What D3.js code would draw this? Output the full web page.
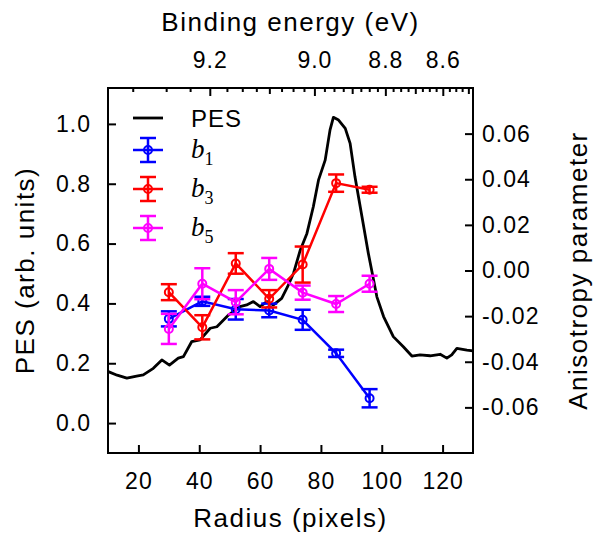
<!DOCTYPE html>
<html>
<head>
<meta charset="utf-8">
<script src="https://cdn.jsdelivr.net/npm/d3@7"></script>
<style>
    body { margin: 0; background: #fff; }
    text { font-family: "Liberation Sans", Arial, Helvetica, sans-serif; fill: #000; }
    .tick text { letter-spacing: 1px; }
    .title { font-size: 26px; letter-spacing: 1.5px; }
    .bsym { font-family: "Liberation Serif", "Times New Roman", serif; font-style: italic; }
</style>
</head>
<body>
<div id="chart"></div>
<script>
// anisotropy data (right axis)
const radius = [30, 41, 52, 63, 74, 85, 96];
const b1 = [-0.0212, -0.0135, -0.0170, -0.0175, -0.0216, -0.0363, -0.0560];
const b1Err = [0.0033, 0.0020, 0.0045, 0.0030, 0.0044, 0.0016, 0.0040];
const b3 = [-0.0095, -0.0249, 0.0031, -0.0124, 0.0026, 0.0383, 0.0354];
const b3Err = [0.0035, 0.0053, 0.0045, 0.0038, 0.0079, 0.0038, 0.0013];
const b5 = [-0.0256, -0.0058, -0.0139, 0.0007, -0.0097, -0.0147, -0.0058];
const b5Err = [0.0066, 0.0068, 0.0053, 0.0048, 0.0031, 0.0035, 0.0035];

// PES trace (left axis)
const pesRadius = [10.1, 13, 16.2, 19.4, 21.6, 24.9, 27.7, 30.2, 33.1, 34.8, 37.5, 40.3, 43.6, 45.8, 49.6,
    53.4, 55.6, 57.8, 60, 62.2, 64.4, 67.1, 69, 71, 73.2, 75.4, 77.5, 79.2, 81.4, 83, 84.1, 85.8, 88,
    89.6, 91.2, 93.5, 95.6, 98.4, 100.6, 103.8, 107.1, 109.9, 112.6, 115.9, 119.2, 121.4, 123, 124.7,
    128, 130];
const pesValue = [0.172, 0.160, 0.150, 0.157, 0.161, 0.183, 0.211, 0.194, 0.217, 0.222, 0.272, 0.278, 0.317,
    0.322, 0.361, 0.389, 0.395, 0.406, 0.389, 0.406, 0.395, 0.417, 0.455, 0.501, 0.578, 0.634, 0.723,
    0.812, 0.879, 0.980, 1.022, 1.013, 0.985, 0.935, 0.823, 0.690, 0.567, 0.422, 0.356, 0.289, 0.255,
    0.224, 0.228, 0.225, 0.230, 0.217, 0.228, 0.250, 0.244, 0.241];

const radiusTicks = [20, 40, 60, 80, 100, 120];
const pesTicks = [0.0, 0.2, 0.4, 0.6, 0.8, 1.0];
const anisoTicks = [-0.06, -0.04, -0.02, 0.00, 0.02, 0.04, 0.06];
const energyLabels = [9.2, 9.0, 8.8, 8.6];

// binding energy calibration: E = E0 - k * r^2
const E0 = 9.291, kE = 4.78e-5;
const energyToRadius = e => Math.sqrt((E0 - e) / kE);

const W = 595, H = 533;
const margin = { top: 88, right: 122, bottom: 80, left: 108 };
const width = W - margin.left - margin.right;
const height = H - margin.top - margin.bottom;

const svg = d3.select('#chart')
    .append('svg')
    .attr('width', W)
    .attr('height', H);

const g = svg.append('g')
    .attr('transform', `translate(${margin.left},${margin.top})`);

const x = d3.scaleLinear().domain([10, 130]).range([0, width]);
const yL = d3.scaleLinear().domain([-0.1, 1.12]).range([height, 0]);
const yR = d3.scaleLinear().domain([-0.08, 0.08]).range([height, 0]);

// axes, ticks pointing inward
const styleAxis = sel => {
    sel.select('.domain').remove();
    sel.selectAll('line').attr('stroke', '#000').attr('stroke-width', 2);
    sel.selectAll('text').style('font-size', '23px').attr('fill', '#000');
};

g.append('g')
    .attr('transform', `translate(0,${height})`)
    .call(d3.axisBottom(x).tickValues(radiusTicks).tickSize(-8).tickPadding(20).tickFormat(d3.format('d')))
    .call(styleAxis);

g.append('g')
    .call(d3.axisLeft(yL).tickValues(pesTicks).tickSize(-8).tickPadding(17).tickFormat(d3.format('.1f')))
    .call(styleAxis);

g.append('g')
    .attr('transform', `translate(${width},0)`)
    .call(d3.axisRight(yR).tickValues(anisoTicks).tickSize(-8).tickPadding(17)
        .tickFormat(d => d3.format('.2f')(d).replace('−', '-')))
    .call(styleAxis)
    .selectAll('text').attr('text-anchor', 'start').attr('x', 9);

// top axis: binding energy, non-linear
const minorE = d3.range(0, 32).map(i => +(9.275 - i * 0.025).toFixed(3))
    .filter(e => e < E0 && energyToRadius(e) >= 10 && energyToRadius(e) <= 130);
const topAxis = g.append('g');
topAxis.selectAll('line')
    .data(minorE)
    .enter()
    .append('line')
    .attr('x1', d => x(energyToRadius(d)))
    .attr('x2', d => x(energyToRadius(d)))
    .attr('y1', 0)
    .attr('y2', d => {
        const m = Math.round(d * 1000);
        if (m % 200 === 0) return 8;
        if (m % 100 === 0) return 6;
        return 4;
    })
    .attr('stroke', '#000')
    .attr('stroke-width', 2);
topAxis.selectAll('text')
    .data(energyLabels)
    .enter()
    .append('text')
    .attr('x', d => x(energyToRadius(d)))
    .attr('y', -20)
    .attr('text-anchor', 'middle')
    .style('font-size', '23px')
    .style('letter-spacing', '1px')
    .text(d => d3.format('.1f')(d));

// PES curve
g.append('path')
    .datum(pesRadius.map((r, i) => [r, pesValue[i]]))
    .attr('fill', 'none')
    .attr('stroke', '#000')
    .attr('stroke-width', 2.8)
    .attr('stroke-linejoin', 'round')
    .attr('d', d3.line().x(d => x(d[0])).y(d => yL(d[1])));

// anisotropy series with error bars
const series = [
    { name: '1', vals: b1, errs: b1Err, color: '#0000ff' },
    { name: '3', vals: b3, errs: b3Err, color: '#ff0000' },
    { name: '5', vals: b5, errs: b5Err, color: '#ff00ff' }
];
const cap = 8;

series.forEach(s => {
    const pts = radius.map((r, i) => ({ r: r, v: s.vals[i], e: s.errs[i] }));
    const sg = g.append('g').attr('stroke', s.color).attr('stroke-width', 2.5).attr('fill', 'none');

    sg.append('path')
        .datum(pts)
        .attr('d', d3.line().x(d => x(d.r)).y(d => yR(d.v)));

    const eb = sg.selectAll('.eb')
        .data(pts)
        .enter()
        .append('g');
    eb.append('line')
        .attr('x1', d => x(d.r)).attr('x2', d => x(d.r))
        .attr('y1', d => yR(d.v - d.e)).attr('y2', d => yR(d.v + d.e));
    eb.append('line')
        .attr('x1', d => x(d.r) - cap).attr('x2', d => x(d.r) + cap)
        .attr('y1', d => yR(d.v + d.e)).attr('y2', d => yR(d.v + d.e));
    eb.append('line')
        .attr('x1', d => x(d.r) - cap).attr('x2', d => x(d.r) + cap)
        .attr('y1', d => yR(d.v - d.e)).attr('y2', d => yR(d.v - d.e));
    eb.append('circle')
        .attr('cx', d => x(d.r))
        .attr('cy', d => yR(d.v))
        .attr('r', 4)
        .attr('stroke-width', 2);
});

// frame
g.append('rect')
    .attr('width', width)
    .attr('height', height)
    .attr('fill', 'none')
    .attr('stroke', '#000')
    .attr('stroke-width', 2);

// legend
const lg = g.append('g').attr('transform', 'translate(25,30)');
lg.append('line')
    .attr('x1', 0).attr('x2', 30).attr('y1', 0).attr('y2', 0)
    .attr('stroke', '#000').attr('stroke-width', 2.8);
lg.append('text')
    .attr('x', 58).attr('y', 9)
    .style('font-size', '24px')
    .style('letter-spacing', '1px')
    .text('PES');

series.forEach((s, i) => {
    const yy = 32 + i * 39;
    const item = lg.append('g')
        .attr('transform', `translate(0,${yy})`)
        .attr('stroke', s.color).attr('stroke-width', 2.5).attr('fill', 'none');
    item.append('line').attr('x1', 0).attr('x2', 30).attr('y1', 0).attr('y2', 0);
    item.append('line').attr('x1', 15).attr('x2', 15).attr('y1', -12).attr('y2', 12);
    item.append('line').attr('x1', 7).attr('x2', 23).attr('y1', -12).attr('y2', -12);
    item.append('line').attr('x1', 7).attr('x2', 23).attr('y1', 12).attr('y2', 12);
    item.append('circle').attr('cx', 15).attr('cy', 0).attr('r', 4).attr('stroke-width', 2);

    const t = lg.append('text')
        .attr('class', 'bsym')
        .attr('x', 58).attr('y', yy + 8)
        .style('font-size', '27px');
    t.append('tspan').text('b');
    t.append('tspan')
        .attr('class', 'bsym')
        .style('font-style', 'normal')
        .style('font-size', '18px')
        .attr('dy', 7)
        .text(s.name);
});

// axis titles
svg.append('text')
    .attr('class', 'title')
    .attr('x', margin.left + width / 2)
    .attr('y', 527)
    .attr('text-anchor', 'middle')
    .text('Radius (pixels)');

svg.append('text')
    .attr('class', 'title')
    .attr('x', margin.left + width / 2)
    .attr('y', 31)
    .attr('text-anchor', 'middle')
    .text('Binding energy (eV)');

svg.append('text')
    .attr('class', 'title')
    .attr('transform', `translate(34,${margin.top + height / 2}) rotate(-90)`)
    .attr('text-anchor', 'middle')
    .text('PES (arb. units)');

svg.append('text')
    .attr('class', 'title')
    .attr('transform', `translate(587,${margin.top + height / 2}) rotate(-90)`)
    .attr('text-anchor', 'middle')
    .text('Anisotropy parameter');
</script>
</body>
</html>
